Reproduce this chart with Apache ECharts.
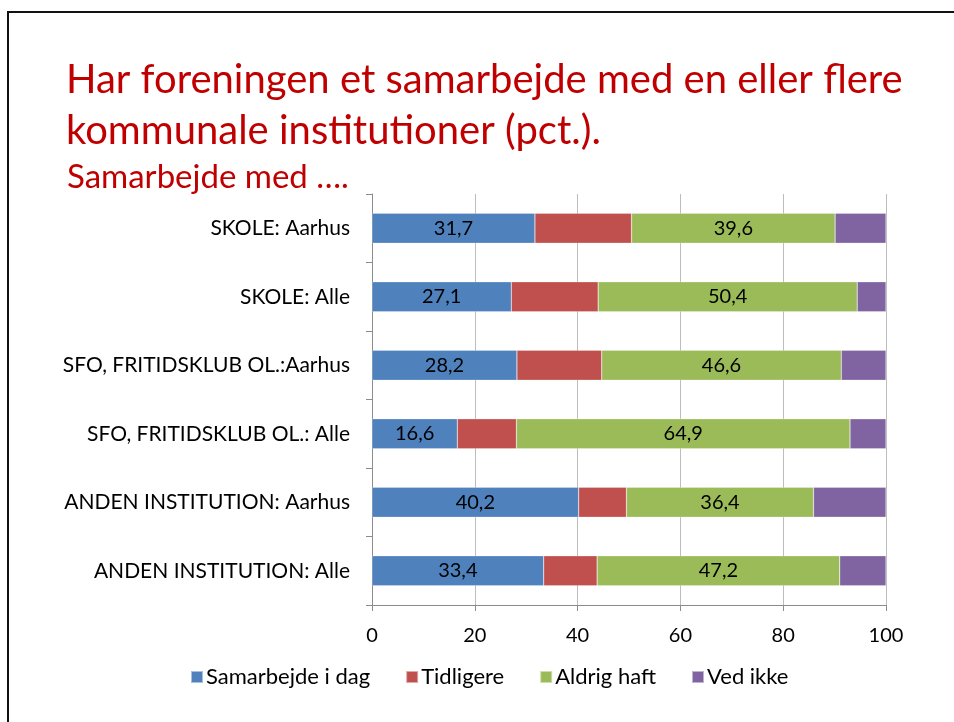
<!DOCTYPE html>
<html>
<head>
<meta charset="utf-8">
<script src="https://cdn.jsdelivr.net/npm/echarts@6/dist/echarts.min.js"></script>
<style>
html,body{margin:0;padding:0;background:#fff;}
#frame{position:absolute;left:7px;top:11px;width:960px;height:720px;border-top:2px solid #111;border-left:2px solid #111;}
#chart{position:absolute;left:0;top:0;width:954px;height:722px;}
</style>
</head>
<body>
<div id="frame"></div>
<div id="chart"></div>
<script>
const categories = ["SKOLE: Aarhus","SKOLE: Alle","SFO, FRITIDSKLUB OL.:Aarhus","SFO, FRITIDSKLUB OL.: Alle","ANDEN INSTITUTION: Aarhus","ANDEN INSTITUTION: Alle"];
const seriesNames = ["Samarbejde i dag","Tidligere","Aldrig haft","Ved ikke"];
const samarbejdeIDag = [31.7, 27.1, 28.2, 16.6, 40.2, 33.4];
const tidligere = [18.8, 16.9, 16.5, 11.5, 9.3, 10.4];
const aldrigHaft = [39.6, 50.4, 46.6, 64.9, 36.4, 47.2];
const vedIkke = [9.9, 5.6, 8.7, 7.0, 14.1, 9.0];
const xTicks = [0, 20, 40, 60, 80, 100];
const colors = ["#4F81BD","#C0504D","#9BBB59","#8064A2"];
const FONT = "Lato, 'Liberation Sans', sans-serif";

const chart = echarts.init(document.getElementById('chart'), null, {renderer:'canvas'});
const lbl = {show:true, position:'inside', color:'#000', fontSize:20, fontFamily:FONT,
  formatter: p => String(p.value).replace('.', ',')};
function mk(name, data, idx, showLabel){
  return {name, type:'bar', stack:'total', data, barWidth:30,
    itemStyle:{color:colors[idx], borderColor:'rgba(255,255,255,0.5)', borderWidth:0.5},
    label: showLabel ? lbl : {show:false}, emphasis:{disabled:true}};
}
chart.setOption({
  animation:false,
  textStyle:{fontFamily:FONT},
  title:[
    {text:"Har foreningen et samarbejde med en eller flere", left:61, top:55,
     textStyle:{color:'#C00000', fontSize:40, fontWeight:'normal', fontFamily:FONT}},
    {text:"kommunale institutioner (pct.).", left:61, top:106,
     textStyle:{color:'#C00000', fontSize:40, fontWeight:'normal', fontFamily:FONT}},
    {text:"Samarbejde med ….", left:62, top:156,
     textStyle:{color:'#C00000', fontSize:33, fontWeight:'normal', fontFamily:FONT}}
  ],
  legend:{bottom:29, left:185, itemWidth:12, itemHeight:12, itemGap:35,
    icon:'rect', data:seriesNames,
    textStyle:{fontSize:22, color:'#000', fontFamily:FONT, padding:[0,0,0,-2]}},
  grid:{left:372, right:68, top:194, bottom:117},
  xAxis:{type:'value', min:0, max:100, interval:20,
    axisLine:{show:true, lineStyle:{color:'#8c8c8c'}},
    axisTick:{show:true, length:6, lineStyle:{color:'#8c8c8c'}},
    splitLine:{show:true, lineStyle:{color:'#bdbdbd', width:1}},
    axisLabel:{fontSize:20, color:'#000', margin:21, fontFamily:FONT,
      formatter: v => xTicks.includes(v) ? String(v) : ''}},
  yAxis:{type:'category', data:categories, inverse:true,
    axisLine:{show:true, lineStyle:{color:'#8c8c8c'}},
    axisTick:{show:true, length:6, lineStyle:{color:'#8c8c8c'}},
    axisLabel:{fontSize:21, color:'#000', margin:22, fontFamily:FONT}},
  series:[
    mk(seriesNames[0], samarbejdeIDag, 0, true),
    mk(seriesNames[1], tidligere, 1, false),
    mk(seriesNames[2], aldrigHaft, 2, true),
    mk(seriesNames[3], vedIkke, 3, false)
  ]
});
</script>
</body>
</html>
